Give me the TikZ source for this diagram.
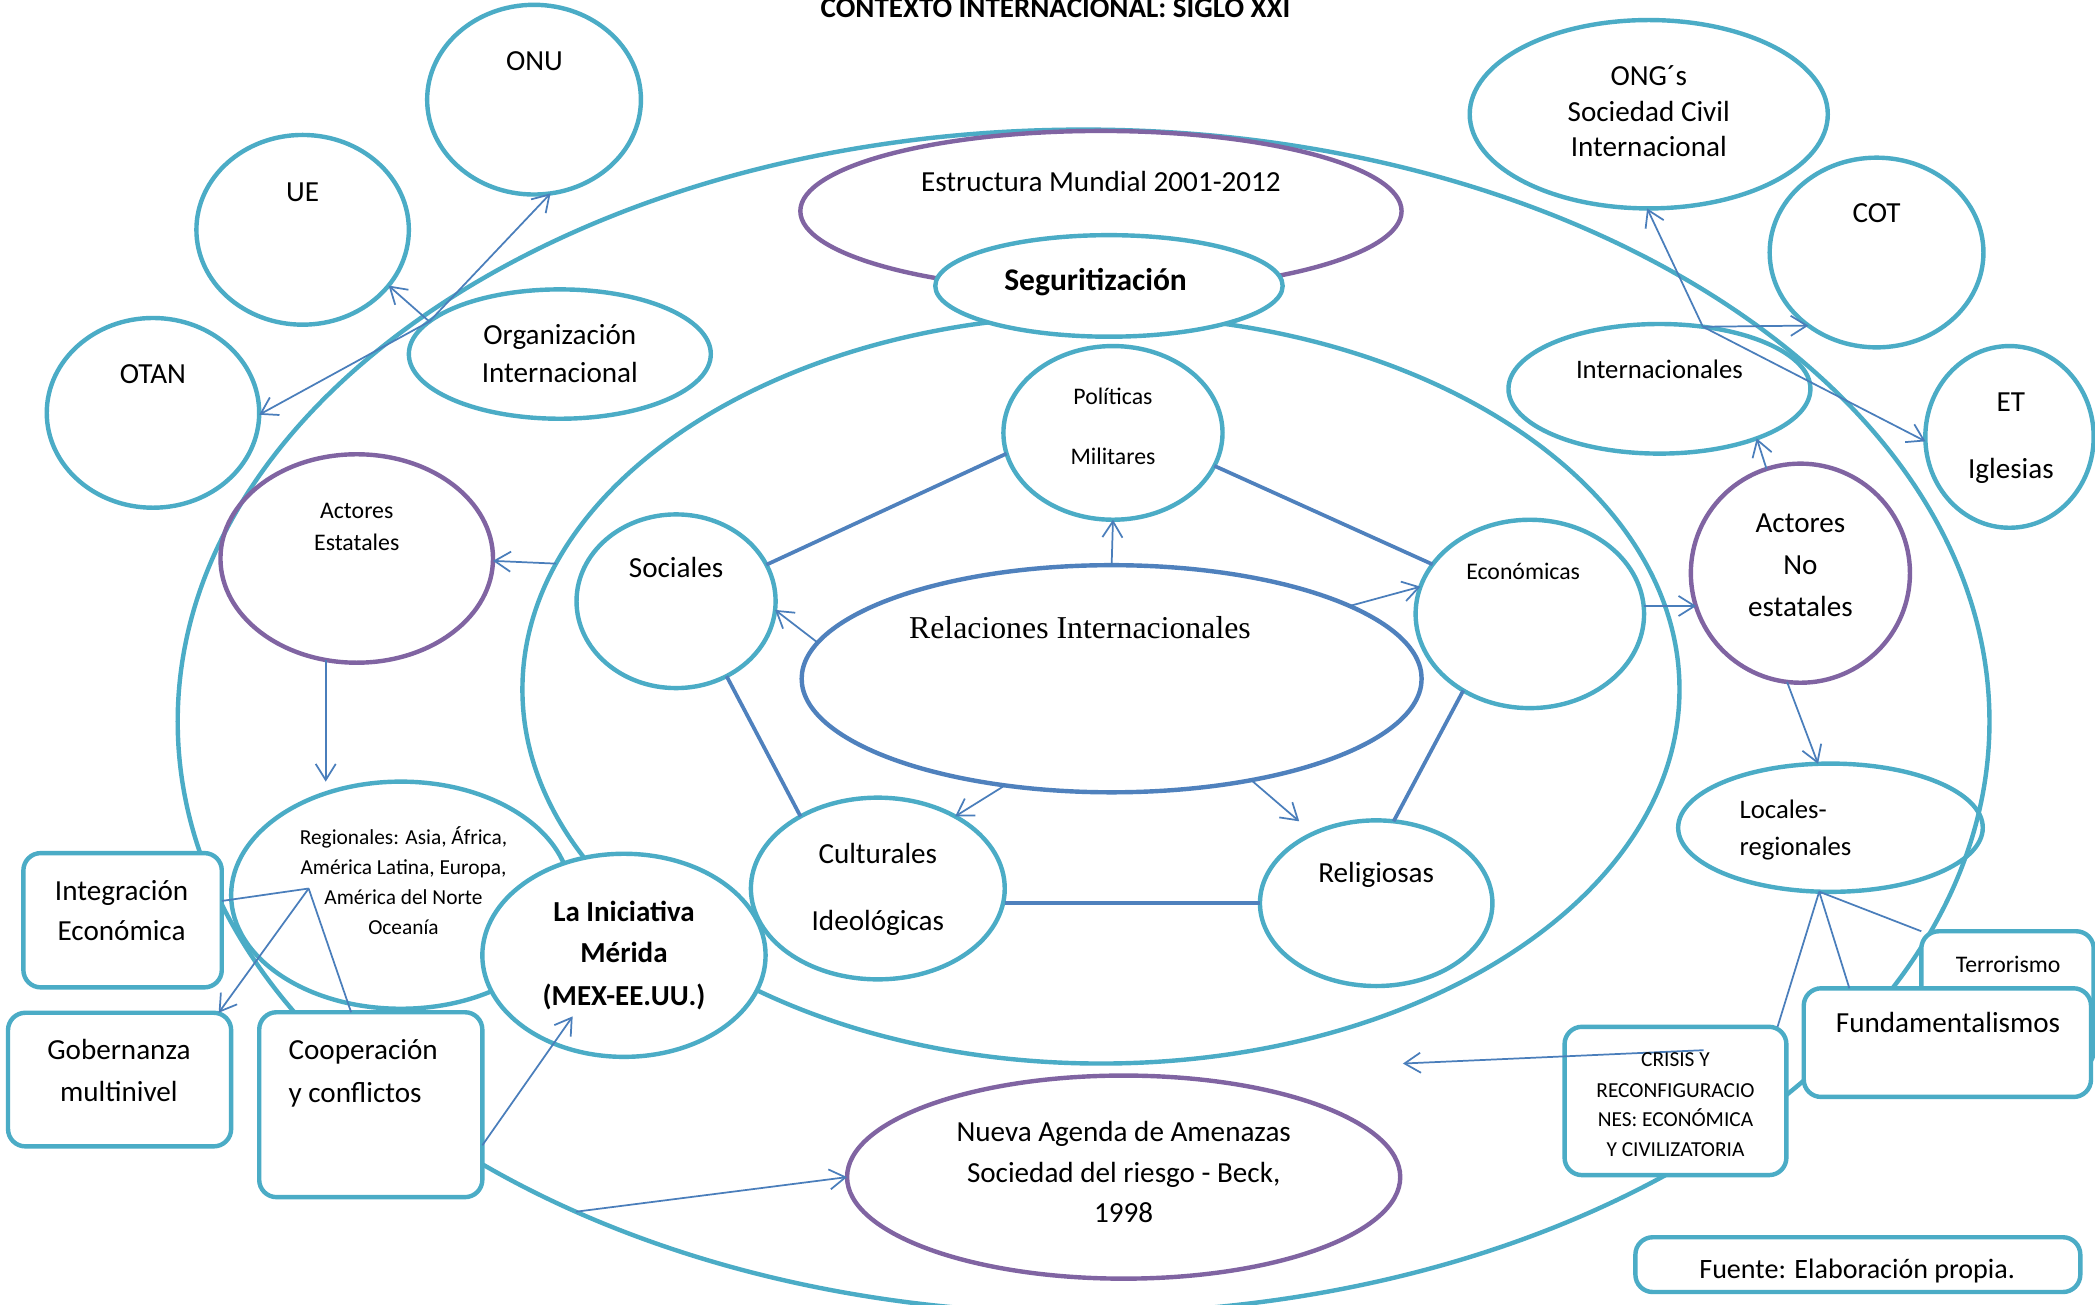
\documentclass[tikz,border=0pt]{standalone}
\usepackage{fontspec}
\setmainfont{Carlito}
\newfontfamily\serifrm{Liberation Serif}
\usetikzlibrary{shapes.geometric,arrows.meta}
\definecolor{cyanc}{RGB}{75,172,198}
\definecolor{purplec}{RGB}{128,100,162}
\definecolor{bluec}{RGB}{79,129,189}
\definecolor{arrowc}{RGB}{74,126,187}
\tikzset{
  ell/.style={ellipse, inner sep=0pt, outer sep=0pt, line width=3.3pt, draw=cyanc},
  pell/.style={ell, draw=purplec},
  bell/.style={ell, draw=bluec},
  box/.style={rectangle, rounded corners=13pt, draw=cyanc, line width=3.3pt, fill=white, inner sep=0pt, outer sep=0pt},
  conn/.style={draw=bluec, line width=2.8pt},
  arr/.style={draw=arrowc, line width=1.3pt, -{Straight Barb[length=12pt,width=15pt]}},
  thinl/.style={draw=arrowc, line width=1.3pt},
  tbase/.style={anchor=base, inner sep=0pt, outer sep=0pt},
  tA/.style={tbase, font=\fontsize{21.8}{26}\selectfont},
  tB/.style={tbase, font=\fontsize{20}{24}\selectfont},
  tC/.style={tbase, font=\fontsize{17.8}{21}\selectfont},
  tD/.style={tbase, font=\fontsize{16}{19}\selectfont},
  tBold/.style={tbase, font=\fontsize{21.7}{26}\selectfont\bfseries},
}
\begin{document}
\begin{tikzpicture}[x=1pt,y=-1pt]
\useasboundingbox (0,0) rectangle (1568,976);
\fill[white] (0,0) rectangle (1568,976);

% large rings
\node[ell, minimum width=1356pt, minimum height=886pt] (outer) at (811,540) {};
\node[ell, minimum width=866pt, minimum height=560pt] (middle) at (824,516) {};

% top
\node[pell, minimum width=450pt, minimum height=120pt] (estr) at (824,158) {};
\node[ell, fill=white, minimum width=260pt, minimum height=76pt] (segu) at (830,214) {};

% core
\node[bell, minimum width=464pt, minimum height=170pt] (rel) at (832,508) {};
\node[ell, minimum width=164pt, minimum height=130pt] (pol) at (833,324) {};
\node[ell, minimum width=149pt, minimum height=130pt] (soc) at (506,450) {};
\node[ell, minimum width=171pt, minimum height=141pt] (eco) at (1145,459.5) {};
\node[ell, minimum width=190pt, minimum height=136pt] (cul) at (657,665) {};
\node[ell, minimum width=174pt, minimum height=124pt] (reli) at (1030,676) {};

% left side
\node[ell, minimum width=160pt, minimum height=142pt] (onu) at (399.7,74.6) {};
\node[ell, minimum width=159pt, minimum height=142pt] (ue) at (226.5,172) {};
\node[ell, minimum width=159pt, minimum height=142pt] (otan) at (114.5,309) {};
\node[ell, minimum width=226pt, minimum height=96.8pt] (org) at (419,265) {};
\node[pell, minimum width=204pt, minimum height=156pt] (actE) at (267,418) {};
\node[ell, minimum width=254pt, minimum height=170pt] (reg) at (300,670) {};
\node[ell, fill=white, minimum width=212pt, minimum height=152pt] (mer) at (467,715) {};
\node[pell, minimum width=414pt, minimum height=152pt] (nueva) at (841,881) {};

% right side
\node[ell, minimum width=268pt, minimum height=141pt] (ong) at (1234,85.5) {};
\node[ell, minimum width=160pt, minimum height=142pt] (cot) at (1404.5,189) {};
\node[ell, minimum width=126pt, minimum height=136pt] (et) at (1504,327) {};
\node[ell, minimum width=226pt, minimum height=97pt] (int) at (1242,291) {};
\node[pell, minimum width=164pt, minimum height=164pt] (actN) at (1347.5,429) {};
\node[ell, minimum width=228pt, minimum height=96pt] (loc) at (1370,619.5) {};

% boxes
\node[box, minimum width=148.5pt, minimum height=100.5pt] (integ) at (91.75,688.75) {};
\node[box, minimum width=167pt, minimum height=100pt] (gob) at (89.5,808) {};
\node[box, minimum width=167pt, minimum height=138.4pt] (coop) at (277.5,826.8) {};
\node[box, minimum width=166pt, minimum height=111pt] (crisis) at (1254,824) {};
\node[box, minimum width=129pt, minimum height=103pt] (terr) at (1502.5,748.5) {};
\node[box, minimum width=215pt, minimum height=81.3pt] (fund) at (1457.5,780.35) {};
\node[box, minimum width=333pt, minimum height=41pt] (fuente) at (1390.5,946.5) {};

% thick links
\draw[conn] (soc.22) -- (pol.191.6);
\draw[conn] (pol.-18.7) -- (eco.153.4);
\draw[conn] (soc.-56.8) -- (cul.137.2);
\draw[conn] (eco.-131.6) -- (reli.78.2);
\draw[conn] (reli.west -| cul.east) -- (reli.west);

% arrows
\draw[arr] (rel.90) -- (pol.270);
\draw[arr] (rel.173) -- (soc.-5);
\draw[arr] (rel.17) -- (eco.166);
\draw[arr] (rel.-135) -- (cul.43);
\draw[arr, shorten >=14pt] (rel.-36) -- (reli.132);
\draw[arr] (middle.167.6) -- (actE.-1);
\draw[arr] (actE.-107.6) -- (actE.-107.6 |- reg.north);
\draw[arr] (eco.4) -- (eco.4 -| actN.198);
\draw[arr] (actN.108) -- (int.-27);
\draw[arr] (actN.-97) -- (loc.101);
\draw[arr] (int.55) -- (ong.-91.5);
\draw[arr] (int.55) -- (cot.-133);
\draw[arr] (int.55) -- (et.183);
\draw[arr] (org.166) -- (onu.-80);
\draw[arr] (org.166) -- (ue.-33);
\draw[arr] (org.166) -- (otan.-1);
\coordinate (reghub) at (231,665);
\draw[thinl] (reghub) -- (integ.11);
\draw[arr] (reghub) -- (gob.34);
\draw[thinl] (reghub) -- (coop.102);
\coordinate (merin) at (428.6,760.7);
\draw[arr] (coop.-20) -- (merin);
\draw[arr] (outer.-136) -- (nueva.180);
\draw[thinl] (loc.-100) -- (terr.north west);
\draw[thinl] (loc.-100) -- (fund.151);
\draw[thinl] (loc.-100) -- (crisis.36.5);
\coordinate (crisisin) at (1275,786);
\coordinate (crisistip) at (1050,796);
\draw[arr] (crisisin) -- (crisistip);

% texts
\node[tBold] (t-title) at (790,13.4) {CONTEXTO INTERNACIONAL: SIGLO XXI};
\node[tA] (t-onu) at (400,52.9) {ONU};
\node[tA] (t-ue) at (226.5,150.5) {UE};
\node[tA] (t-otan) at (114.5,286.9) {OTAN};
\node[tA] (t-org1) at (419,258.2) {Organización};
\node[tA] (t-org2) at (419,286) {Internacional};
\node[tC] (t-acte1) at (267,387.9) {Actores};
\node[tC] (t-acte2) at (267,411.9) {Estatales};
\node[tA] (t-estr) at (824,143.5) {Estructura Mundial 2001-2012};
\node[tbase, font=\fontsize{23.6}{28}\selectfont\bfseries] (t-segu) at (820,217.3) {Seguritización};
\node[tC] (t-pol1) at (833,302.6) {Políticas};
\node[tC] (t-pol2) at (833,347.9) {Militares};
\node[tA] (t-soc) at (506,432.2) {Sociales};
\node[tC] (t-eco) at (1140,433.7) {Económicas};
\node[tbase, anchor=base west, font=\fontsize{23.8}{28}\serifrm] (t-rel) at (680.4,477.6) {Relaciones Internacionales};
\node[tA] (t-cul1) at (657,646.2) {Culturales};
\node[tA] (t-cul2) at (657,696.7) {Ideológicas};
\node[tA] (t-reli) at (1030,660.7) {Religiosas};
\node[tBold] (t-mer1) at (467,689.8) {La Iniciativa};
\node[tBold] (t-mer2) at (467,720.2) {Mérida};
\node[tBold] (t-mer3) at (467,752.2) {(MEX-EE.UU.)};
\node[tD] (t-reg1) at (302,632.3) {Regionales: Asia, África,};
\node[tD] (t-reg2) at (302,654.8) {América Latina, Europa,};
\node[tD] (t-reg3) at (302,677.3) {América del Norte};
\node[tD] (t-reg4) at (302,699.3) {Oceanía};
\node[tA] (t-int1) at (91,674.2) {Integración};
\node[tA] (t-int2) at (91,704.2) {Económica};
\node[tA] (t-gob1) at (89,793.2) {Gobernanza};
\node[tA] (t-gob2) at (89,824.2) {multinivel};
\node[tA, anchor=base west] (t-coop1) at (216,793.2) {Cooperación};
\node[tA, anchor=base west] (t-coop2) at (216,825.2) {y conflictos};
\node[tA] (t-nue1) at (841,854.2) {Nueva Agenda de Amenazas};
\node[tA] (t-nue2) at (841,885.2) {Sociedad del riesgo - Beck,};
\node[tA] (t-nue3) at (841,915.2) {1998};
\node[tD] (t-cr1) at (1254,798.3) {CRISIS Y};
\node[tD] (t-cr2) at (1254,821.3) {RECONFIGURACIO};
\node[tD] (t-cr3) at (1254,843.3) {NES: ECONÓMICA};
\node[tD] (t-cr4) at (1254,865.3) {Y CIVILIZATORIA};
\node[tC] (t-terr) at (1503,727.5) {Terrorismo};
\node[tA] (t-fund) at (1458,772.8) {Fundamentalismos};
\begin{scope}
\clip (1226,928) rectangle (1555,961);
\node[tbase, font=\fontsize{21}{25}\selectfont] (t-fuente) at (1390,957) {Fuente: Elaboración propia.};
\end{scope}
\node[tB, anchor=base west] (t-loc1) at (1302,612.5) {Locales-};
\node[tB, anchor=base west] (t-loc2) at (1302,640.2) {regionales};
\node[tB] (t-intl) at (1242,283.6) {Internacionales};
\node[tA] (t-actn1) at (1347.5,398.7) {Actores};
\node[tA] (t-actn2) at (1347.5,430.2) {No};
\node[tA] (t-actn3) at (1347.5,461.2) {estatales};
\node[tA] (t-ong1) at (1234,63.9) {ONG´s};
\node[tA] (t-ong2) at (1234,90.7) {Sociedad Civil};
\node[tA] (t-ong3) at (1234,117.5) {Internacional};
\node[tA] (t-cot) at (1404.5,166.2) {COT};
\node[tA] (t-et1) at (1505,308.2) {ET};
\node[tA] (t-et2) at (1505,358.2) {Iglesias};
\end{tikzpicture}
\end{document}
